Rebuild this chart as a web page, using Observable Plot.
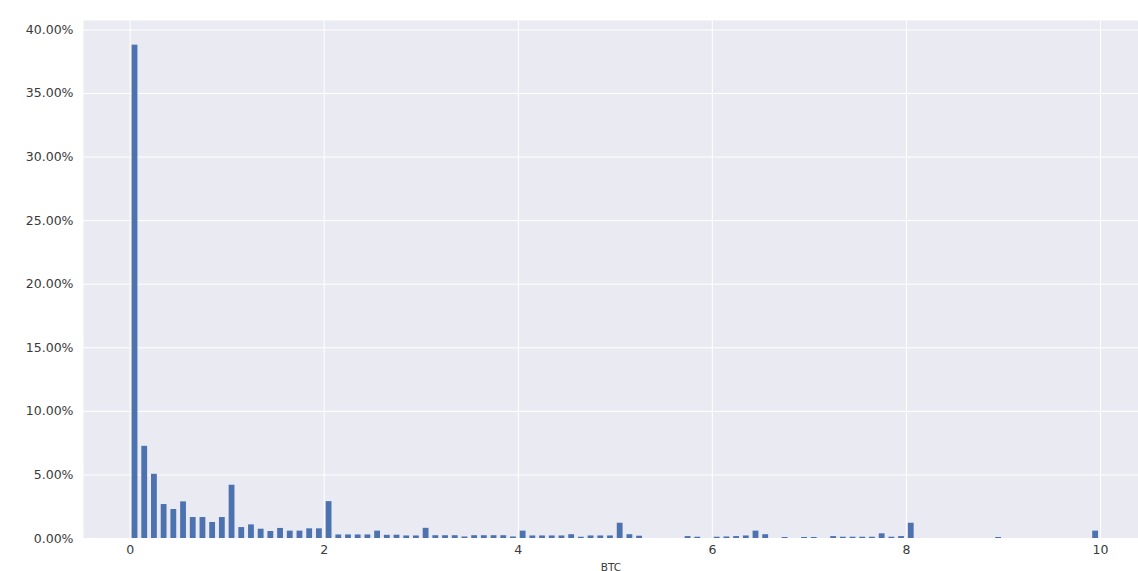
<!DOCTYPE html>
<html>
<head>
<meta charset="utf-8">
<script src="https://cdn.jsdelivr.net/npm/d3@7"></script>
<script src="https://cdn.jsdelivr.net/npm/@observablehq/plot@0.6"></script>
<style>
  html, body { margin: 0; padding: 0; background: #ffffff; }
  #chart svg { display: block; }
</style>
</head>
<body>
<div id="chart"></div>
<script>
// Bin start (BTC) for each histogram bin of width 0.1
const binStarts = [
  0.0,0.1,0.2,0.3,0.4,0.5,0.6,0.7,0.8,0.9,
  1.0,1.1,1.2,1.3,1.4,1.5,1.6,1.7,1.8,1.9,
  2.0,2.1,2.2,2.3,2.4,2.5,2.6,2.7,2.8,2.9,
  3.0,3.1,3.2,3.3,3.4,3.5,3.6,3.7,3.8,3.9,
  4.0,4.1,4.2,4.3,4.4,4.5,4.6,4.7,4.8,4.9,
  5.0,5.1,5.2,5.3,5.4,5.5,5.6,5.7,5.8,5.9,
  6.0,6.1,6.2,6.3,6.4,6.5,6.6,6.7,6.8,6.9,
  7.0,7.1,7.2,7.3,7.4,7.5,7.6,7.7,7.8,7.9,
  8.0,8.1,8.2,8.3,8.4,8.5,8.6,8.7,8.8,8.9,
  9.0,9.1,9.2,9.3,9.4,9.5,9.6,9.7,9.8,9.9
];
const binWidth = 0.1;
// Share of transactions (percent) in each bin
const shares = [
  38.8,7.25,5.05,2.67,2.28,2.88,1.65,1.65,1.26,1.65,
  4.19,0.86,1.07,0.73,0.55,0.79,0.58,0.58,0.76,0.76,
  2.9,0.28,0.28,0.28,0.28,0.58,0.25,0.26,0.2,0.2,
  0.8,0.22,0.22,0.22,0.12,0.22,0.22,0.22,0.22,0.12,
  0.58,0.2,0.2,0.2,0.2,0.3,0.1,0.2,0.2,0.2,
  1.2,0.3,0.18,0,0,0,0,0.15,0.1,0,
  0.1,0.12,0.15,0.2,0.58,0.3,0,0.08,0,0.08,
  0.08,0,0.15,0.1,0.1,0.1,0.1,0.37,0.1,0.15,
  1.2,0,0,0,0,0,0,0,0,0.08,
  0,0,0,0,0,0,0,0,0,0.58
];
const xTicks = [0, 2, 4, 6, 8, 10];
const yTicks = [0, 5, 10, 15, 20, 25, 30, 35, 40];
const xLabel = "BTC";

const data = binStarts.map((b, i) => ({x1: b, x2: b + binWidth, y: shares[i]}));

const chart = Plot.plot({
  width: 1138,
  height: 571,
  marginLeft: 83,
  marginRight: 0,
  marginTop: 20,
  marginBottom: 33,
  style: {background: "#ffffff", fontFamily: "DejaVu Sans", fontSize: "12.5px", color: "#3a3a3a"},
  x: {domain: [-0.481, 10.392]},
  y: {domain: [0, 40.74]},
  marks: [
    Plot.frame({fill: "#EAEAF2", stroke: null}),
    Plot.gridX(xTicks, {stroke: "#ffffff", strokeOpacity: 1, strokeWidth: 1}),
    Plot.gridY(yTicks, {stroke: "#ffffff", strokeOpacity: 1, strokeWidth: 1}),
    Plot.rectY(data, {x1: "x1", x2: "x2", y: "y", fill: "#4C72B0", insetLeft: 1.95, insetRight: 1.95}),
    Plot.axisX(xTicks, {tickSize: 0, tickPadding: 7, label: null, fill: "#3a3a3a"}),
    Plot.axisY(yTicks, {tickSize: 0, tickPadding: 10, label: null, tickFormat: d => d.toFixed(2) + "%", fill: "#3a3a3a"}),
    Plot.text([xLabel], {frameAnchor: "bottom", dy: 32, text: d => d, fontSize: 10.5, fill: "#3a3a3a"})
  ]
});
document.getElementById("chart").appendChild(chart);
</script>
</body>
</html>
